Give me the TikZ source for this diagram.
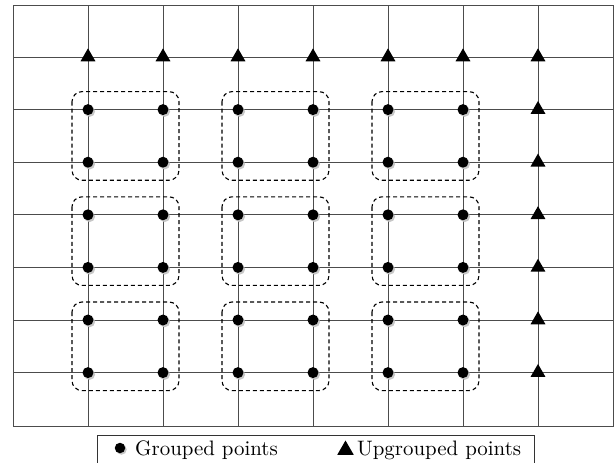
\documentclass[tikz,border=0pt]{standalone}
\usetikzlibrary{shapes.geometric}
\newcommand{\legfont}[1]{\scalebox{2.09}{\fontsize{10pt}{12pt}\selectfont #1}}
\begin{document}
\begin{tikzpicture}[x=1pt,y=-1pt,
  gridline/.style={draw=black!70, line width=0.9pt},
  dot/.style={circle, fill=black, inner sep=0pt, minimum size=11pt},
  dotshadow/.style={circle, fill=black!22, inner sep=0pt, minimum size=11pt},
  tri/.style={regular polygon, regular polygon sides=3, fill=black, inner sep=0pt, minimum size=17.3pt},
  grpbox/.style={draw=black, dash pattern=on 4pt off 3pt, line width=1.1pt, rounded corners=10pt},
  legendbox/.style={draw=black!80, line width=1pt},
  legtext/.style={anchor=base west, inner sep=0pt}]
\useasboundingbox (0,0) rectangle (616,463);
% frame corners
\coordinate (tl) at (13,5);
\coordinate (br) at (613,426);
% grid
\foreach \x [count=\i] in {88,163,238,313,388,463,538}{
  \coordinate (vt\i) at (\x,5);
  \coordinate (vb\i) at (\x,426);
  \draw[gridline] (vt\i) -- (vb\i);
}
\foreach \y [count=\j] in {57,109.6,162.2,214.8,267.4,320,372.6}{
  \coordinate (hl\j) at (13,\y);
  \coordinate (hr\j) at (613,\y);
  \draw[gridline] (hl\j) -- (hr\j);
}
\draw[gridline] (tl) rectangle (br);
% dashed group boxes
\foreach \gx [count=\i] in {88,238,388}{
  \foreach \gy [count=\j] in {109.6,214.8,320}{
    \coordinate (ba\i\j) at (\gx-16,\gy-18);
    \coordinate (bb\i\j) at (\gx+91,\gy+70.6);
    \draw[grpbox] (ba\i\j) rectangle (bb\i\j);
  }
}
% grouped points
\foreach \x [count=\i] in {88,163,238,313,388,463}{
  \foreach \y [count=\j] in {109.6,162.2,214.8,267.4,320,372.6}{
    \node[dotshadow] (s-\i-\j) at (\x+1.6,\y+1.8) {};
    \node[dot] (d-\i-\j) at (\x,\y) {};
  }
}
% ungrouped points
\foreach \x [count=\i] in {88,163,238,313,388,463,538}{
  \node[tri] (t-\i) at (\x,57) {};
}
\foreach \y [count=\j] in {109.6,162.2,214.8,267.4,320,372.6}{
  \node[tri] (r-\j) at (538,\y) {};
}
% legend
\coordinate (lbl) at (97,470);
\coordinate (ltl) at (97,435);
\coordinate (ltr) at (534,435);
\coordinate (lbr) at (534,470);
\draw[legendbox] (lbl) -- (ltl) -- (ltr) -- (lbr);
\node[circle, fill=black!22, inner sep=0pt, minimum size=10.5pt] (lgsh) at (121.5,449.5) {};
\node[circle, fill=black, inner sep=0pt, minimum size=10.5pt] (lgdot) at (120,448) {};
\node[legtext] (lgt1) at (135,455) {\legfont{Grouped points}};
\node[regular polygon, regular polygon sides=3, fill=black, inner sep=0pt, minimum size=19pt] (lgtri) at (345.5,450) {};
\node[legtext] (lgt2) at (357,455) {\legfont{Upgrouped points}};
\end{tikzpicture}
\end{document}
